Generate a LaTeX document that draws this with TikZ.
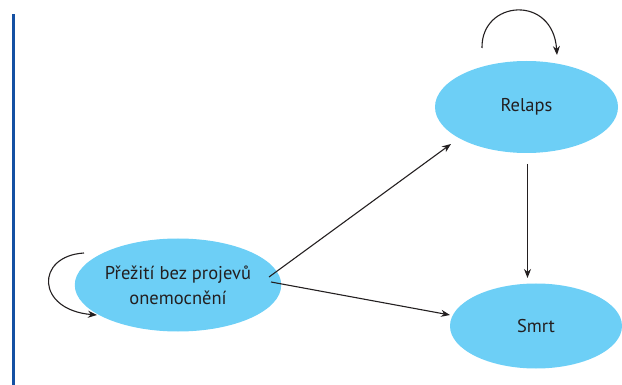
\documentclass[tikz,border=0pt]{standalone}
\usepackage{fontspec}
\setmainfont{PT Sans}
\usetikzlibrary{arrows.meta,shapes.geometric}
\definecolor{ellcol}{HTML}{6DCFF6}
\definecolor{barcol}{HTML}{1450A3}
\definecolor{linecol}{HTML}{231F20}
\tikzset{
  state/.style={ellipse, fill=ellcol, draw=none, inner sep=0pt, align=center, text=linecol, font=\fontsize{18.5}{25}\selectfont},
  conn/.style={draw=linecol, line width=1.1pt, -{Stealth[length=9pt,width=7pt]}}
}
\begin{document}
\begin{tikzpicture}[x=1pt,y=-1pt]
\useasboundingbox (0,0) rectangle (622,385);
\fill[barcol] (11.5,14) rectangle (14.5,385);
\node[state, minimum width=184pt, minimum height=93pt] (p) at (178,285) {Přežití bez projevů\\onemocnění};
\node[state, minimum width=183pt, minimum height=92pt] (r) at (526.5,107) {Relaps};
\node[state, minimum width=172pt, minimum height=85pt] (s) at (536,326) {Smrt};
\coordinate (pa) at (269,277);
\coordinate (pb) at (271,282);
\coordinate (ra) at (451,144);
\coordinate (sa) at (450,315);
\coordinate (rb) at (527.5,164);
\coordinate (sb) at (527.5,278);
\draw[conn] (pa) -- (ra);
\draw[conn] (pb) -- (sa);
\draw[conn] (rb) -- (sb);
\coordinate (l1s) at (84,253);
\coordinate (l1e) at (97,315);
\draw[conn] (l1s) .. controls (35,256) and (36,310) .. (l1e);
\coordinate (l2s) at (482,48);
\coordinate (l2e) at (557,55);
\draw[conn] (l2s) .. controls (481,0) and (553,-6) .. (l2e);
\end{tikzpicture}
\end{document}
